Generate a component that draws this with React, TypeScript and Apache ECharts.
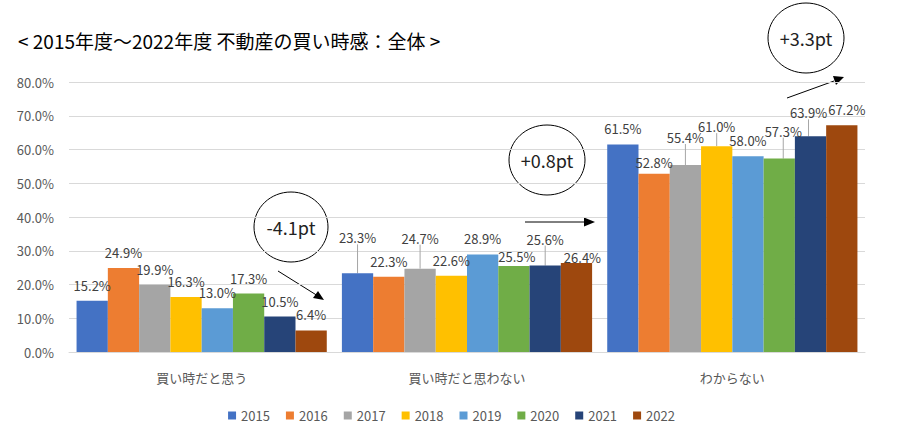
import React, { useEffect, useRef } from "react";
import * as echarts from "echarts";

const categories = ["買い時だと思う", "買い時だと思わない", "わからない"];
const years = ["2015", "2016", "2017", "2018", "2019", "2020", "2021", "2022"];
const v2015 = [15.2, 23.3, 61.5];
const v2016 = [24.9, 22.3, 52.8];
const v2017 = [19.9, 24.7, 55.4];
const v2018 = [16.3, 22.6, 61.0];
const v2019 = [13.0, 28.9, 58.0];
const v2020 = [17.3, 25.5, 57.3];
const v2021 = [10.5, 25.6, 63.9];
const v2022 = [6.4, 26.4, 67.2];
const seriesValues = [v2015, v2016, v2017, v2018, v2019, v2020, v2021, v2022];
const yTicks = [0, 10, 20, 30, 40, 50, 60, 70, 80];
const title = "< 2015年度～2022年度 不動産の買い時感：全体 >";
const notes = ["-4.1pt", "+0.8pt", "+3.3pt"];

const colors = ["#4472C4", "#ED7D31", "#A5A5A5", "#FFC000", "#5B9BD5", "#70AD47", "#264478", "#9E480E"];

// label nudges (layout only): key "series-category" -> [dx, dy, leader]
const labelNudge: Record<string, [number, number, boolean]> = {
  "0-1": [0, -20, true],
  "2-1": [0, -15, true],
  "5-1": [3, 6, false],
  "6-1": [0, -11, true],
  "7-1": [6, 10, false],
  "1-2": [0, 4, false],
  "2-2": [0, -12, true],
  "3-2": [0, -4, true],
  "5-2": [4, -12, true],
  "6-2": [-2, -8, true],
  "7-2": [5, 0, false],
};

const FONT = "'Noto Sans CJK JP', 'Noto Sans', sans-serif";

export default function App() {
  const ref = useRef<HTMLDivElement>(null);
  useEffect(() => {
    if (!ref.current) return;
    const chart = echarts.init(ref.current, undefined, { renderer: "svg" });
    const series = years.map((y, si) => ({
      name: y,
      type: "bar" as const,
      data: seriesValues[si].map((v, ci) => {
        const n = labelNudge[`${si}-${ci}`];
        return { value: v, labelLine: { show: !!(n && n[2]) } };
      }),
      barGap: "0%",
      barCategoryGap: "5.7%",
      itemStyle: { color: colors[si] },
      label: {
        show: true,
        position: "top",
        distance: 9,
        formatter: (p: any) => p.value.toFixed(1) + "%",
        color: "#404040",
        fontSize: 13,
        fontFamily: FONT,
      },
      labelLine: { show: false, lineStyle: { color: "#a6a6a6", width: 1 } },
      labelLayout: (p: any) => {
        const n = labelNudge[`${p.seriesIndex}-${p.dataIndex}`];
        if (!n) return {};
        return { dx: n[0], dy: n[1] };
      },
    }));
    chart.setOption({
      animation: false,
      textStyle: { fontFamily: FONT },
      color: colors,
      grid: { left: 69, right: 38, top: 82, bottom: 95 },
      legend: {
        data: years,
        top: 404,
        left: "center",
        icon: "rect",
        itemWidth: 8,
        itemHeight: 8,
        itemGap: 16,
        textStyle: { fontSize: 13, color: "#595959", fontFamily: FONT },
      },
      xAxis: {
        type: "category",
        data: categories,
        axisTick: { show: false },
        axisLine: { lineStyle: { color: "#d9d9d9" } },
        axisLabel: { color: "#595959", fontSize: 13, margin: 19, fontFamily: FONT },
      },
      yAxis: {
        type: "value",
        min: yTicks[0],
        max: yTicks[yTicks.length - 1],
        interval: 10,
        axisLabel: {
          color: "#595959",
          fontSize: 13,
          margin: 15,
          fontFamily: FONT,
          formatter: (v: number) => v.toFixed(1) + "%",
        },
        splitLine: { lineStyle: { color: "#d9d9d9" } },
        axisLine: { show: false },
        axisTick: { show: false },
      },
      series,
      graphic: [
        {
          type: "text",
          left: 18,
          top: 31,
          style: { text: title, fontSize: 19, fill: "#000", fontFamily: FONT },
        },
        { type: "ellipse", shape: { cx: 291, cy: 227, rx: 37, ry: 35 }, style: { fill: "#fff", stroke: "#000", lineWidth: 1 } },
        { type: "text", x: 291, y: 227, style: { text: notes[0], fontSize: 18, fill: "#222", align: "center", verticalAlign: "middle", fontFamily: FONT } },
        { type: "line", shape: { x1: 278, y1: 271, x2: 318, y2: 296 }, style: { stroke: "#000", lineWidth: 1 } },
        { type: "polygon", shape: { points: [[324, 300], [313, 298], [318, 291]] }, style: { fill: "#000" } },
        { type: "ellipse", shape: { cx: 547, cy: 160, rx: 38, ry: 35 }, style: { fill: "#fff", stroke: "#000", lineWidth: 1 } },
        { type: "text", x: 547, y: 160, style: { text: notes[1], fontSize: 18, fill: "#222", align: "center", verticalAlign: "middle", fontFamily: FONT } },
        { type: "line", shape: { x1: 525, y1: 222, x2: 585, y2: 222 }, style: { stroke: "#000", lineWidth: 1 } },
        { type: "polygon", shape: { points: [[595, 222], [584, 217.5], [584, 226.5]] }, style: { fill: "#000" } },
        { type: "ellipse", shape: { cx: 806, cy: 38, rx: 38, ry: 35 }, style: { fill: "#fff", stroke: "#000", lineWidth: 1 } },
        { type: "text", x: 806, y: 38, style: { text: notes[2], fontSize: 18, fill: "#222", align: "center", verticalAlign: "middle", fontFamily: FONT } },
        { type: "line", shape: { x1: 787, y1: 98, x2: 834, y2: 81 }, style: { stroke: "#000", lineWidth: 1 } },
        { type: "polygon", shape: { points: [[844, 77], [833, 76], [836, 85]] }, style: { fill: "#000" } },
      ],
    });
    return () => chart.dispose();
  }, []);
  return (
    <div
      ref={ref}
      style={{ position: "fixed", left: 0, top: 0, width: 903, height: 447, background: "#fff" }}
    />
  );
}
